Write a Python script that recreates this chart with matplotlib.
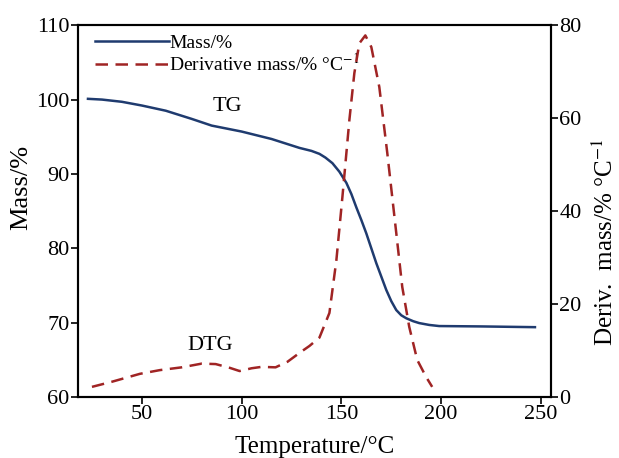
import matplotlib.pyplot as plt

plt.rcParams['font.family'] = ['Liberation Serif', 'DejaVu Serif']
plt.rcParams['mathtext.fontset'] = 'stix'

# TG curve (left axis)
tg_temp = [23, 30, 40, 50, 62, 75, 85, 100, 115, 129, 135, 139, 142, 145.5,
           149, 152.5, 155, 157.5, 160, 162.5, 165, 167.5, 170, 172.5, 175,
           177.5, 180, 182.5, 186, 189, 194, 199, 220, 247]
tg_mass = [100.1, 100.0, 99.7, 99.2, 98.5, 97.4, 96.5, 95.7, 94.7, 93.5, 93.1,
           92.7, 92.2, 91.45, 90.3, 88.8, 87.3, 85.5, 83.8, 82.0, 80.0, 78.0,
           76.2, 74.4, 72.9, 71.7, 71.0, 70.6, 70.2, 69.95, 69.7, 69.55, 69.5,
           69.4]

# DTG curve (right axis)
dtg_temp = [25, 35, 49, 59, 70, 80, 87, 94, 99, 105, 110, 117, 123, 129, 134,
            139, 144, 147.5, 150.5, 154, 156.5, 159, 162, 165, 169, 173, 177.5,
            180.5, 184, 188, 192.5, 195.5]
dtg_val = [2.2, 3.3, 5.0, 5.8, 6.4, 7.2, 7.1, 6.3, 5.6, 6.2, 6.5, 6.4, 7.6, 9.5,
           11.0, 12.8, 18.1, 29.5, 43, 59.6, 69.7, 76.1, 77.8, 75.3, 66.7,
           52.5, 35.3, 23.7, 15.1, 8.0, 4.3, 2.2]

x_ticks = [50, 100, 150, 200, 250]
left_ticks = [60, 70, 80, 90, 100, 110]
right_ticks = [0, 20, 40, 60, 80]

fig = plt.figure(figsize=(6.19, 4.58), dpi=100)
ax = fig.add_axes([0.126, 0.133, 0.764, 0.812])
ax2 = ax.twinx()

l1, = ax.plot(tg_temp, tg_mass, color='#1f3b6f', lw=1.8, label='Mass/%')
l2, = ax2.plot(dtg_temp, dtg_val, color='#a02424', lw=1.8, ls=(0, (5, 3)),
               label='Derivative mass/% °C$^{-1}$')

ax.set_xlim(18, 255)
ax.set_ylim(60, 110)
ax2.set_ylim(0, 80)
ax.set_xticks(x_ticks)
ax.set_yticks(left_ticks)
ax2.set_yticks(right_ticks)

for a in (ax, ax2):
    a.tick_params(labelsize=16, length=5, width=1.2, pad=1, direction='out')
    for s in a.spines.values():
        s.set_linewidth(1.5)

ax.set_xlabel('Temperature/°C', fontsize=18, labelpad=8)
ax.set_ylabel('Mass/%', fontsize=19, labelpad=3)
ax2.set_ylabel('Deriv.  mass/% °C$^{-1}$', fontsize=18, labelpad=8)
ax.yaxis.label.set_y(0.565)
ax2.yaxis.label.set_y(0.417)

ax.text(93, 99.1, 'TG', fontsize=16, ha='center', va='center')
ax.text(84, 67.0, 'DTG', fontsize=16, ha='center', va='center')

ax.legend([l1, l2], [l1.get_label(), l2.get_label()], loc='upper left',
          bbox_to_anchor=(0.036, 0.975), frameon=False, fontsize=14,
          handlelength=3.8, handletextpad=0, labelspacing=0.05,
          borderaxespad=0, borderpad=0)

fig.savefig('out.png', dpi=100)
